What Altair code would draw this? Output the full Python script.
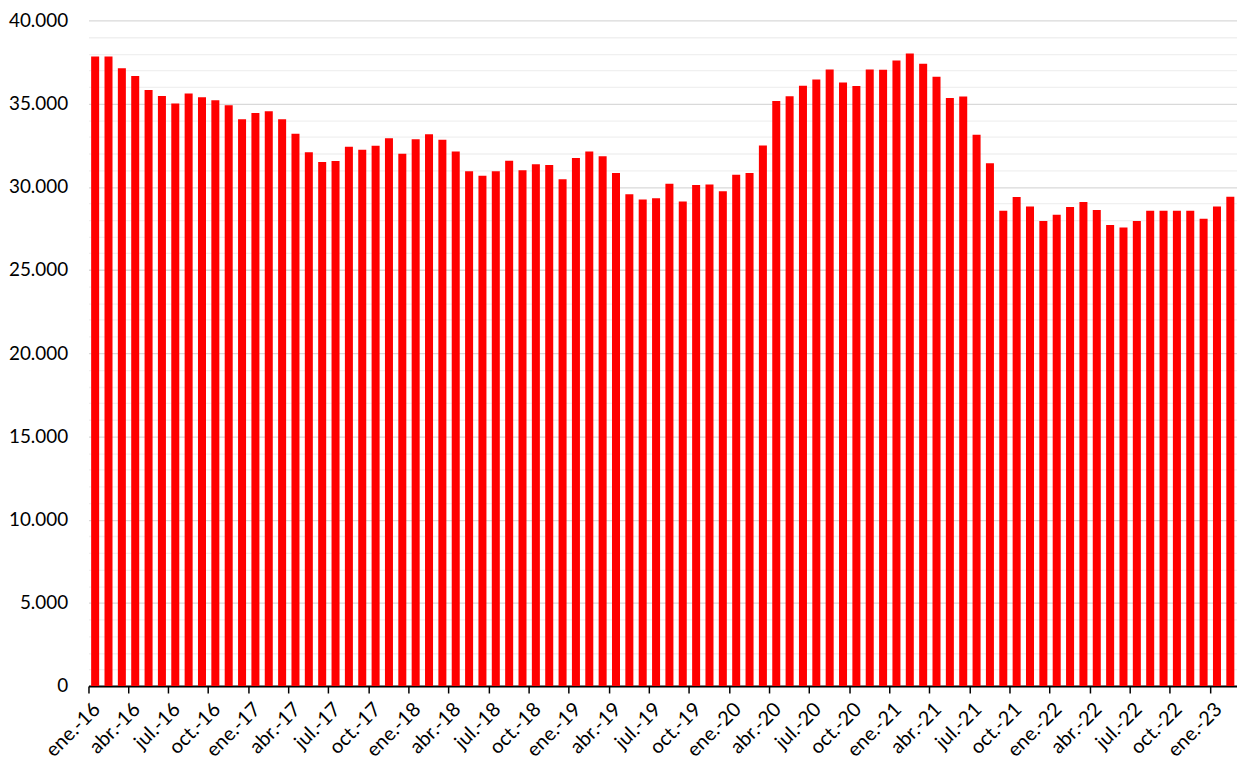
import altair as alt
import pandas as pd

months = ["ene.", "feb.", "mar.", "abr.", "may.", "jun.", "jul.", "ago.", "sep.", "oct.", "nov.", "dic."]
years = ["16", "17", "18", "19", "20", "21", "22", "23"]

values = [
    37830, 37830, 37130, 36650, 35810, 35460, 35000, 35610, 35380, 35200, 34900, 34060,
    34440, 34540, 34060, 33180, 32070, 31490, 31550, 32400, 32230, 32460, 32920, 31990,
    32860, 33160, 32820, 32120, 30930, 30670, 30930, 31570, 30990, 31350, 31310, 30450,
    31730, 32120, 31830, 30830, 29550, 29230, 29310, 30190, 29120, 30110, 30130, 29730,
    30730, 30830, 32480, 35160, 35440, 36070, 36450, 37050, 36270, 36050, 37050, 37030,
    37590, 38010, 37390, 36610, 35340, 35420, 33120, 31410, 28560, 29390, 28810, 27940,
    28320, 28780, 29080, 28600, 27700, 27560, 27940, 28560, 28560, 28560, 28560, 28080,
    28810, 29400,
]

labels = [f"{m}-{y}" for y in years for m in months][: len(values)]
tick_labels = labels[::3]

df = pd.DataFrame({"mes": labels, "valor": values})

FONT = "Lato"

chart = (
    alt.Chart(df)
    .mark_bar(color="#FF0000", width=alt.RelativeBandSize(0.6))
    .encode(
        x=alt.X(
            "mes:N",
            sort=labels,
            title=None,
            scale=alt.Scale(paddingInner=0, paddingOuter=0),
            axis=alt.Axis(
                values=tick_labels,
                bandPosition=0,
                labelAngle=-45,
                labelAlign="right",
                labelBaseline="middle",
                labelFont=FONT,
                labelFontSize=20,
                labelColor="#000000",
                labelPadding=13,
                labelOffset=2,
                labelOverlap=False,
                labelFlush=False,
                domainColor="#000000",
                domainWidth=2,
                tickColor="#000000",
                tickSize=7,
                tickWidth=1.5,
                grid=False,
            ),
        ),
        y=alt.Y(
            "valor:Q",
            title=None,
            scale=alt.Scale(domain=[0, 40000], nice=False),
            axis=alt.Axis(
                values=list(range(0, 40001, 1000)),
                labelExpr="datum.value % 5000 === 0 ? replace(format(datum.value, ','), ',', '.') : ''",
                labelFont=FONT,
                labelFontSize=19,
                labelColor="#000000",
                labelPadding=21,
                labelFlush=False,
                ticks=False,
                tickSize=0,
                domain=False,
                grid=True,
                gridColor={
                    "condition": {"test": "datum.value % 5000 === 0", "value": "#d9d9d9"},
                    "value": "#f0f0f0",
                },
                gridWidth=1.3,
            ),
        ),
    )
    .properties(
        width=1156,
        height=670,
        autosize=alt.AutoSizeParams(type="none"),
        padding={"left": 81, "top": 10, "right": 0, "bottom": 73},
    )
    .configure_view(stroke=None)
)

chart.save("out.html", embed_options={"renderer": "svg", "actions": False})
